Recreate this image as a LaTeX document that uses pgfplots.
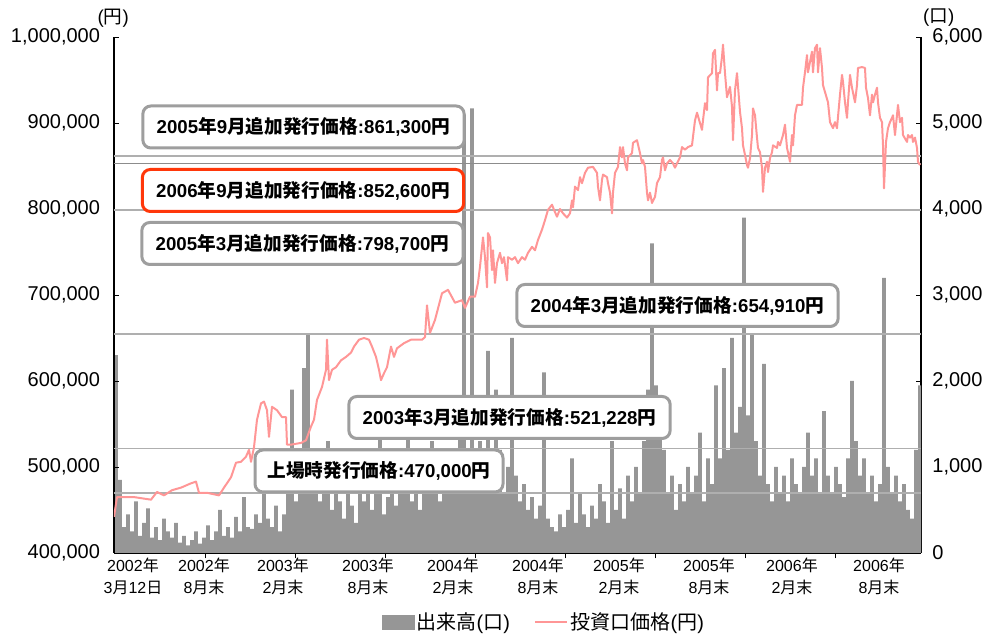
\documentclass[border=0pt]{standalone}
\usepackage{fontspec}
\setmainfont{Liberation Sans}
\newfontfamily\J{Noto Sans CJK JP}
\newcommand\jj[1]{{\J #1}}
\usepackage{pgfplots}
\pgfplotsset{compat=1.18}
\definecolor{volgray}{RGB}{150,150,150}
\definecolor{pricepink}{RGB}{255,150,150}
\definecolor{boxgray}{RGB}{158,158,158}
\definecolor{boxred}{RGB}{255,55,10}
\definecolor{refgray}{RGB}{175,175,175}
\definecolor{refdark}{RGB}{140,140,140}
\tikzset{box/.style={draw=boxgray, line width=2.25pt, rounded corners=6pt, fill=white,
  minimum width=241pt, minimum height=31.5pt, inner sep=0pt,
  font=\fontsize{14}{16}\selectfont\bfseries}}
\pgfplotsset{common/.style={
  width=605.25pt, height=387pt, scale only axis,
  at={(85.5pt,60.75pt)}, anchor=south west,
  xmin=0, xmax=807, clip mode=individual,
  tick align=inside, major tick length=4pt,
  axis line style={black, line width=0.8pt},
  tick style={black, line width=0.6pt},
  /pgf/number format/fixed,
  /pgf/number format/precision=0,
  /pgf/number format/assume math mode=true,
  /pgf/number format/1000 sep={,},
  scaled y ticks=false,
}}
\begin{document}
\begin{tikzpicture}
\useasboundingbox (0,0) rectangle (742.5pt,475.5pt);
% ---------------- volume axis (right) ----------------
\begin{axis}[common,
  ymin=0, ymax=6000,
  axis y line*=right, axis x line*=bottom,
  ytick={0,1000,2000,3000,4000,5000,6000},
  yticklabel style={font=\fontsize{15}{18}\selectfont, xshift=5pt},
  xtick={91,181,271,361,451,541,631,721}, xticklabels={},
  extra x ticks={19,90,169,254,339,424,505,595,678,765},
  extra x tick labels={
    {2002\jj{年}\\3\jj{月}12\jj{日}},
    {2002\jj{年}\\8\jj{月末}},
    {2003\jj{年}\\2\jj{月末}},
    {2003\jj{年}\\8\jj{月末}},
    {2004\jj{年}\\2\jj{月末}},
    {2004\jj{年}\\8\jj{月末}},
    {2005\jj{年}\\2\jj{月末}},
    {2005\jj{年}\\8\jj{月末}},
    {2006\jj{年}\\2\jj{月末}},
    {2006\jj{年}\\8\jj{月末}}},
  extra x tick style={major tick length=0pt,
    xticklabel style={align=center, font=\fontsize{12}{16.5}\selectfont}},
  ybar, bar width=3.8,
]
\addplot[fill=volgray, draw=none] coordinates {
(2,2300) (6,850) (10,300) (14,450) (18,250) (22,600) (26,200) (30,350) (34,520) (38,180)
(42,300) (46,150) (50,400) (54,250) (58,180) (62,350) (66,120) (70,200) (74,90) (78,150)
(82,250) (86,110) (90,180) (94,320) (98,150) (102,250) (106,500) (110,200) (114,300) (118,180)
(122,420) (126,250) (130,650) (134,300) (138,280) (142,450) (146,350) (150,800) (154,400) (158,300)
(162,550) (166,250) (170,450) (174,700) (178,1900) (182,600) (186,900) (190,2150) (194,2550) (198,700)
(202,1100) (206,600) (210,800) (214,1300) (218,500) (222,900) (226,600) (230,400) (234,700) (238,550)
(242,350) (246,800) (250,600) (254,1200) (258,500) (262,750) (266,1400) (270,450) (274,650) (278,900)
(282,550) (286,1000) (290,700) (294,1800) (298,600) (302,900) (306,500) (310,1100) (314,700) (318,1300)
(322,800) (326,600) (330,1000) (334,750) (338,1200) (342,900) (346,1500) (350,5100) (354,1200) (358,5170)
(362,900) (366,1300) (370,1000) (374,2350) (378,800) (382,1900) (386,1200) (390,700) (394,1000) (398,2500)
(402,900) (406,600) (410,800) (414,500) (418,650) (422,400) (426,550) (430,2100) (434,400) (438,300)
(442,250) (446,450) (450,300) (454,500) (458,1100) (462,350) (466,700) (470,450) (474,300) (478,550)
(482,400) (486,800) (490,600) (494,350) (498,1300) (502,500) (506,750) (510,400) (514,900) (518,600)
(522,1000) (526,700) (530,1300) (534,1900) (538,3600) (542,1950) (546,1700) (550,1200) (554,700) (558,900)
(562,500) (566,800) (570,600) (574,1000) (578,700) (582,900) (586,1400) (590,600) (594,1100) (598,800)
(602,1950) (606,1100) (610,2150) (614,1200) (618,2500) (622,1400) (626,1700) (630,3900) (634,1600) (638,2550)
(642,1300) (646,900) (650,2200) (654,800) (658,600) (662,1000) (666,700) (670,900) (674,600) (678,1100)
(682,800) (686,700) (690,1000) (694,1400) (698,900) (702,1100) (706,700) (710,1650) (714,900) (718,700)
(722,1000) (726,800) (730,650) (734,1100) (738,2000) (742,1300) (746,900) (750,1100) (754,700) (758,900)
(762,600) (766,800) (770,3200) (774,1000) (778,700) (782,900) (786,600) (790,800) (794,500) (798,400)
(802,1200) (806,1950)
};
\node[font=\fontsize{14}{16}\selectfont] at (rel axis cs:1.022,1.037) {(\jj{口})};
\end{axis}
% ---------------- price axis (left) ----------------
\begin{axis}[common,
  ymin=400000, ymax=1000000,
  axis y line*=left, axis x line=none,
  ytick={400000,500000,600000,700000,800000,900000,1000000},
  yticklabel style={font=\fontsize{15}{18}\selectfont, xshift=-7pt},
  legend style={at={(0.533,-0.134)}, anchor=center, draw=none, fill=none,
    legend columns=2, font=\fontsize{15}{17}\selectfont,
    /tikz/every even column/.append style={column sep=16pt}},
  legend cell align=left,
]
\addplot[refgray, line width=1.4pt, forget plot] coordinates {(0,861300) (807,861300)};
\addplot[refdark, line width=0.8pt, forget plot] coordinates {(0,852600) (807,852600)};
\addplot[refgray, line width=1.1pt, forget plot] coordinates {(0,798700) (807,798700)};
\addplot[refgray, line width=1.1pt, forget plot] coordinates {(0,654910) (807,654910)};
\addplot[refgray, line width=1.1pt, forget plot] coordinates {(0,521228) (807,521228)};
\addplot[refgray, line width=1.1pt, forget plot] coordinates {(0,470000) (807,470000)};
\addlegendimage{legend image code/.code={\fill[volgray] (0pt,-5pt) rectangle (24pt,5pt);}}
\addlegendentry{\jj{出来高}(\jj{口})}
\addplot[pricepink, line width=1.5pt, line join=round,
  legend image code/.code={\draw[pricepink, line width=1.5pt] (0pt,0pt) -- (24pt,0pt);}]
coordinates {
(0,442000) (3,465000) (20,465000) (37,462000) (43,471000) (50,467000) (58,473000) (67,476000)
(77,481000) (82,483000) (85,470000) (93,470000) (105,467000) (110,476000) (117,488000) (122,505000)
(127,506000) (132,512000) (135,520000) (137,506000) (140,523000) (143,555000) (147,574000) (150,576000)
(153,566000) (155,535000) (158,570000) (163,566000) (168,558000) (172,558000) (173,526000) (177,526000)
(187,528000) (192,531000) (197,547000) (200,555000) (203,578000) (208,593000) (212,613000) (213,648000)
(215,601000) (218,613000) (222,616000) (227,624000) (232,628000) (237,633000) (240,640000) (245,648000)
(250,650000) (255,648000) (258,640000) (262,628000) (265,613000) (267,601000) (270,609000) (273,616000)
(277,640000) (280,628000) (283,638000) (290,644000) (297,648000) (308,648000) (311,651000) (313,688000)
(316,656000) (321,671000) (328,702000) (334,706000) (341,691000) (348,694000) (351,685000) (356,698000)
(361,698000) (364,714000) (366,733000) (369,767000) (371,744000) (373,709000) (374,772000) (376,767000)
(378,729000) (379,752000) (381,714000) (383,737000) (386,749000) (388,737000) (390,744000) (393,717000)
(394,744000) (398,741000) (401,744000) (404,737000) (408,744000) (411,741000) (414,749000) (418,756000)
(421,752000) (424,764000) (428,776000) (431,787000) (434,799000) (438,805000) (440,799000) (443,791000)
(446,800000) (449,795000) (453,790000) (456,795000) (458,810000) (459,802000) (461,826000) (464,822000)
(466,837000) (468,830000) (469,834000) (471,842000) (474,848000) (479,849000) (483,842000) (484,826000)
(486,810000) (488,834000) (489,840000) (493,837000) (494,830000) (496,819000) (498,795000) (499,819000)
(501,842000) (504,849000) (506,872000) (508,860000) (509,872000) (511,853000) (513,845000) (514,860000)
(518,865000) (519,877000) (523,880000) (526,865000) (528,853000) (529,857000) (531,849000) (533,819000)
(534,810000) (536,819000) (538,807000) (541,814000) (543,830000) (546,837000) (548,857000) (549,860000)
(551,845000) (553,853000) (556,857000) (559,853000) (561,848000) (563,853000) (566,860000) (568,872000)
(571,869000) (574,872000) (578,874000) (579,884000) (581,903000) (583,912000) (586,900000) (588,892000)
(589,903000) (591,923000) (593,915000) (594,953000) (598,958000) (599,981000) (601,985000) (603,938000)
(604,958000) (606,958000) (608,977000) (609,991000) (611,958000) (613,930000) (616,942000) (618,919000)
(619,880000) (621,938000) (623,958000) (626,913000) (628,894000) (629,874000) (631,863000) (633,851000)
(634,848000) (636,859000) (638,886000) (639,917000) (641,909000) (643,883000) (644,871000) (646,866000)
(648,848000) (649,820000) (651,848000) (653,855000) (654,843000) (656,859000) (658,866000) (659,874000)
(663,871000) (664,878000) (666,874000) (669,886000) (671,898000) (673,871000) (674,866000) (676,855000)
(678,886000) (679,874000) (681,909000) (683,921000) (686,921000) (688,921000) (689,941000) (691,959000)
(693,979000) (694,959000) (696,971000) (698,983000) (699,959000) (701,987000) (703,991000) (704,959000)
(706,987000) (708,964000) (709,944000) (711,936000) (714,924000) (716,901000) (719,894000) (721,901000)
(723,894000) (726,933000) (728,956000) (729,948000) (731,924000) (733,906000) (734,924000) (736,956000)
(738,941000) (741,924000) (743,944000) (744,964000) (748,965000) (751,964000) (752,941000) (754,929000)
(756,909000) (758,933000) (759,924000) (761,933000) (763,941000) (764,924000) (766,906000) (768,901000)
(769,874000) (770,824000) (772,878000) (774,894000) (776,901000) (778,906000) (779,909000) (781,886000)
(784,921000) (786,901000) (788,906000) (789,886000) (793,878000) (794,886000) (796,883000) (798,886000)
(799,878000) (801,883000) (803,871000) (804,855000) (806,851000)
};
\addlegendentry{\jj{投資口価格}(\jj{円})}
\node[font=\fontsize{14}{16}\selectfont] at (rel axis cs:-0.001,1.037) {(\jj{円})};
\node[box] at (axis cs:189.5,895349) {2005\jj{年}9\jj{月追加発行価格}:861,300\jj{円}};
\node[box, draw=boxred] at (axis cs:189,821512) {2006\jj{年}9\jj{月追加発行価格}:852,600\jj{円}};
\node[box] at (axis cs:188.5,759884) {2005\jj{年}3\jj{月追加発行価格}:798,700\jj{円}};
\node[box] at (axis cs:563.5,687791) {2004\jj{年}3\jj{月追加発行価格}:654,910\jj{円}};
\node[box] at (axis cs:395.5,557558) {2003\jj{年}3\jj{月追加発行価格}:521,228\jj{円}};
\node[box, minimum width=186pt] at (axis cs:265,495349) {\jj{上場時発行価格}:470,000\jj{円}};
\end{axis}
\end{tikzpicture}
\end{document}
